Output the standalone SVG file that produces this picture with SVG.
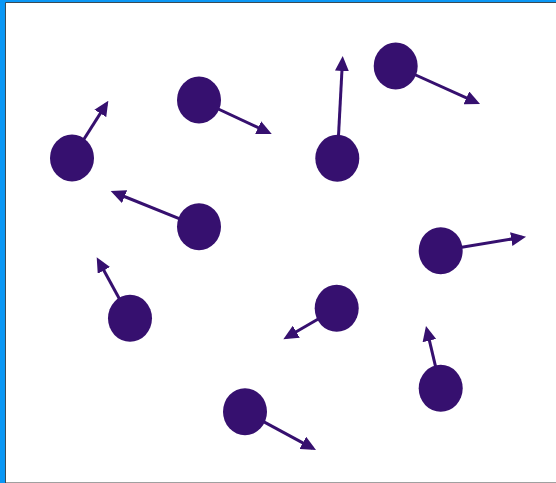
<svg xmlns="http://www.w3.org/2000/svg" width="556" height="483" viewBox="0 0 556 483">
<style>
.node{fill:#36106f}
.conn line{stroke:#36106f;stroke-width:3;marker-end:url(#ah)}
</style>
<defs>
<marker id="ah" viewBox="0 0 15 14" markerUnits="userSpaceOnUse" markerWidth="15" markerHeight="14" refX="11" refY="7" orient="auto">
<path d="M0,0 L15,7 L0,14 z" fill="#36106f"/>
</marker>
</defs>
<rect x="0" y="0" width="556" height="483" fill="#0a97f5"/>
<rect x="6" y="3" width="550" height="480" fill="#ffffff"/>
<path d="M5.5,483 V2.5 H556" fill="none" stroke="#3a4a55" stroke-width="1"/>
<line x1="6" y1="482.5" x2="556" y2="482.5" stroke="#a0a0a0" stroke-width="1"/>
<g id="connectors" class="conn">
<line x1="72" y1="158" x2="106.2" y2="104.1"/>
<line x1="199" y1="100" x2="268.1" y2="132.3"/>
<line x1="337.3" y1="158.3" x2="342.5" y2="60"/>
<line x1="395.7" y1="66" x2="476.4" y2="102.4"/>
<line x1="199" y1="226.7" x2="114.4" y2="192.5"/>
<line x1="440.7" y1="250.7" x2="522.1" y2="237.3"/>
<line x1="130" y1="318.3" x2="98.6" y2="260.8"/>
<line x1="336.7" y1="308.3" x2="286.8" y2="337.3"/>
<line x1="440.7" y1="388.3" x2="426.9" y2="329.9"/>
<line x1="245" y1="411.7" x2="312.5" y2="448.1"/>
</g>
<g id="n1"><ellipse class="node" cx="72" cy="158" rx="22" ry="23.5"/></g>
<g id="n2"><ellipse class="node" cx="199" cy="100" rx="22" ry="23.5"/></g>
<g id="n3"><ellipse class="node" cx="337.3" cy="158.3" rx="22" ry="23.5"/></g>
<g id="n4"><ellipse class="node" cx="395.7" cy="66" rx="22" ry="23.5"/></g>
<g id="n5"><ellipse class="node" cx="199" cy="226.7" rx="22" ry="23.5"/></g>
<g id="n6"><ellipse class="node" cx="440.7" cy="250.7" rx="22" ry="23.5"/></g>
<g id="n7"><ellipse class="node" cx="130" cy="318.3" rx="22" ry="23.5"/></g>
<g id="n8"><ellipse class="node" cx="336.7" cy="308.3" rx="22" ry="23.5"/></g>
<g id="n9"><ellipse class="node" cx="440.7" cy="388.3" rx="22" ry="23.5"/></g>
<g id="n10"><ellipse class="node" cx="245" cy="411.7" rx="22" ry="23.5"/></g>
</svg>
